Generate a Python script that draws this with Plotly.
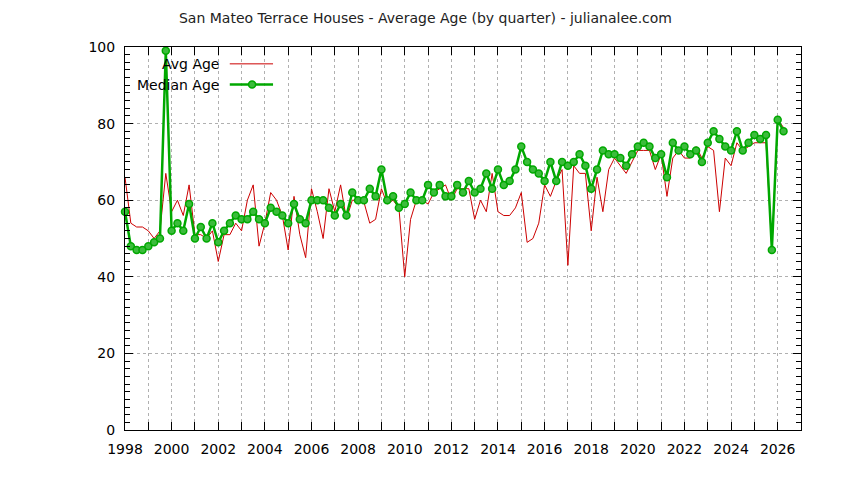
import plotly.graph_objects as go

# quarterly samples, 1998 Q1 .. 2026 Q2
start_year = 1998
avg_age = [66, 54, 53, 53, 52, 50, 52, 67, 57, 60, 56, 64, 51, 51, 50, 52, 44, 51, 51, 54,
           52, 60, 64, 48, 54, 62, 60, 56, 47, 61, 51, 45, 63, 57, 50, 63, 57, 64, 55, 60,
           60, 59.5, 54, 55, 63, 59, 60, 58, 40, 55, 60, 60, 59, 62, 63, 64, 60, 63, 63, 63,
           55, 60, 57, 67, 57, 56, 56, 58, 62, 49, 50, 54, 64, 61, 65, 68, 43, 69, 67, 67,
           52, 66, 57, 68, 71, 69, 67, 70, 73, 73, 73, 68, 72, 61, 71, 73, 71, 71, 74, 71,
           74, 73, 57, 71, 69, 75, 73, 74, 75, 75, 75, 47, 81, 79]
median_age = [57, 48, 47, 47, 48, 49, 50, 99, 52, 54, 52, 59, 50, 53, 50, 54, 49, 52, 54, 56,
              55, 55, 57, 55, 54, 58, 57, 56, 54, 59, 55, 54, 60, 60, 60, 58, 56, 59, 56, 62,
              60, 60, 63, 61, 68, 60, 61, 58, 59, 62, 60, 60, 64, 62, 64, 61, 61, 64, 62, 65,
              62, 63, 67, 63, 68, 64, 65, 68, 74, 70, 68, 67, 65, 70, 65, 70, 69, 70, 72, 69,
              63, 68, 73, 72, 72, 71, 69, 72, 74, 75, 74, 71, 72, 66, 75, 73, 74, 72, 73, 70,
              75, 78, 76, 74, 73, 78, 73, 75, 77, 76, 77, 47, 81, 78]
quarters = [start_year + i * 0.25 for i in range(len(median_age))]

year_ticks = list(range(1998, 2028))
year_labels = [str(y) if y % 2 == 0 else "" for y in year_ticks]

red = "#cc0000"
green = "#00a800"
grid = "#b0b0b0"
font = "DejaVu Sans"

fig = go.Figure()

fig.add_trace(go.Scatter(x=quarters, y=avg_age, mode="lines", name="Avg Age",
                         line=dict(color=red, width=1)))
fig.add_trace(go.Scatter(x=quarters, y=median_age, mode="lines+markers", name="Median Age",
                         line=dict(color=green, width=2.5),
                         marker=dict(symbol="circle", size=7, color="#3cbc3c",
                                     line=dict(color=green, width=1.5)),
                         cliponaxis=False))

# page body adds ~9px offset, so the figure is a bit smaller than the window
fig.update_layout(
    width=835, height=471,
    margin=dict(l=117, r=42, t=39, b=49),
    paper_bgcolor="white", plot_bgcolor="white",
    font=dict(family=font, size=14, color="black"),
    showlegend=False,
    title=dict(text="San Mateo Terrace Houses - Average Age (by quarter) - julianalee.com",
               x=0.5, xref="container", xanchor="center", y=0.979, yanchor="middle",
               font=dict(size=14, color="#222")),
)
fig.update_xaxes(range=[1998, 2027], tickvals=year_ticks, ticktext=year_labels,
                 ticks="inside", ticklen=8, tickcolor="black", showline=True,
                 linecolor="black", linewidth=1, mirror="ticks",
                 showgrid=True, gridcolor=grid, griddash="dot", gridwidth=1,
                 zeroline=False, tickfont=dict(size=14), ticklabelstandoff=6)
fig.update_yaxes(range=[0, 100], dtick=20, ticks="inside", ticklen=8, tickcolor="black",
                 showline=True, linecolor="black", linewidth=1, mirror="ticks",
                 showgrid=True, gridcolor=grid, griddash="dot", gridwidth=1,
                 zeroline=False, tickfont=dict(size=14), ticklabelstandoff=6,
                 minor=dict(dtick=2, ticks="inside", ticklen=5, tickcolor="black",
                            showgrid=False))

# gnuplot-style key: text right-aligned, sample to its right
fig.add_annotation(text="Avg Age", xref="paper", yref="paper", x=0.142, y=0.956,
                   xanchor="right", yanchor="middle", showarrow=False,
                   font=dict(size=14))
fig.add_annotation(text="Median Age", xref="paper", yref="paper", x=0.142, y=0.902,
                   xanchor="right", yanchor="middle", showarrow=False,
                   font=dict(size=14))
fig.add_shape(type="line", xref="paper", yref="paper", x0=0.155, x1=0.219, y0=0.956, y1=0.956,
              line=dict(color=red, width=1))
fig.add_shape(type="line", xref="paper", yref="paper", x0=0.155, x1=0.219, y0=0.902, y1=0.902,
              line=dict(color=green, width=2.5))
fig.add_shape(type="circle", xref="paper", yref="paper", x0=0.188 - 0.0052, x1=0.188 + 0.0052,
              y0=0.902 - 0.0091, y1=0.902 + 0.0091,
              fillcolor="#3cbc3c", line=dict(color=green, width=1.5))

fig.write_html("out.html")
